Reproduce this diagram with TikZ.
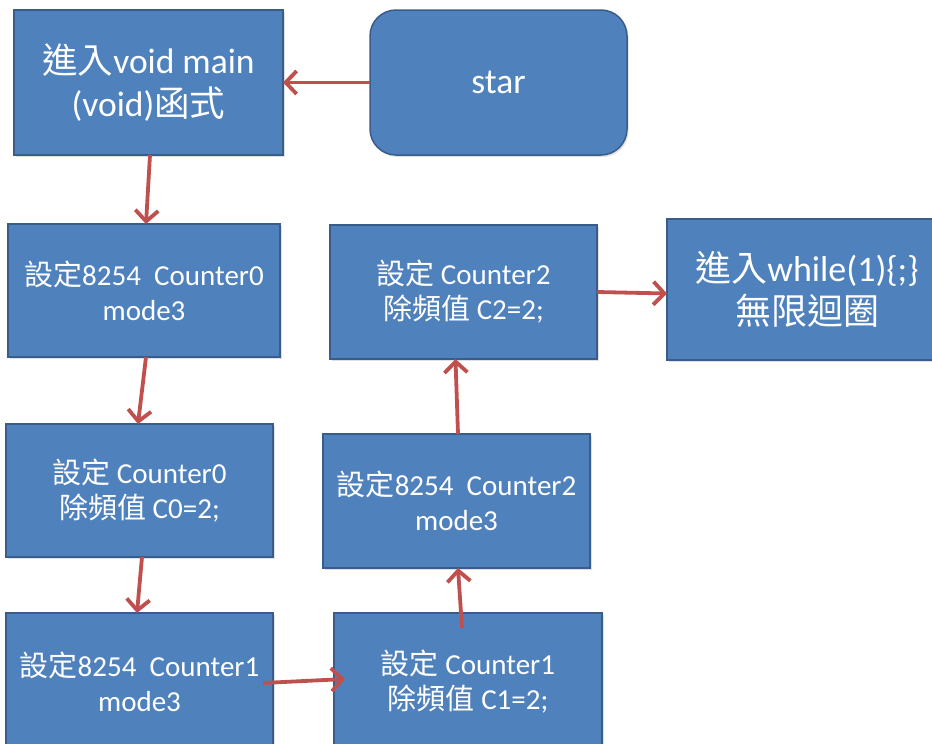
\documentclass[tikz,border=0pt]{standalone}
\usepackage{fontspec}
\setmainfont{Carlito}
\newfontfamily\cjk{Noto Sans CJK TC}
\usetikzlibrary{arrows.meta,calc,shadows}
\definecolor{boxfill}{HTML}{4F81BD}
\definecolor{boxline}{HTML}{385D8A}
\definecolor{arrowred}{HTML}{C0504D}
\tikzset{
  box/.style={draw=boxline, line width=1.5pt, fill=boxfill, text=white, align=center,
    inner sep=0pt, outer sep=0pt,
    drop shadow={shadow xshift=1.5pt, shadow yshift=-2pt, opacity=0.25}},
  bigtext/.style={font=\fontsize{35.5}{43}\selectfont},
  bodytext/.style={font=\fontsize{29}{35}\selectfont},
  flow/.style={draw=arrowred, line width=3.8pt, -{Straight Barb[length=11pt,width=23pt,line width=3.8pt]}}
}
\begin{document}
\begin{tikzpicture}[x=1pt,y=-1pt]
\useasboundingbox (0,0) rectangle (932,744);
\fill[white] (0,0) rectangle (932,744);
\node[box, bigtext, minimum width=269pt, minimum height=145pt] (A) at (148.5,82.5)
  {{\cjk 進入}void main\\(void){\cjk 函式}};
\node[box, bigtext, rounded corners=26pt, minimum width=257pt, minimum height=145pt] (S) at (498.5,82.5) {star};
\node[box, bodytext, minimum width=272pt, minimum height=133pt] (B) at (144,290.5)
  {{\cjk 設定}8254\ \ Counter0\\mode3};
\node[box, bodytext, minimum width=267pt, minimum height=133pt] (C) at (139.5,490.5)
  {{\cjk 設定} Counter0\\{\cjk 除頻值} C0=2;};
\node[box, bodytext, minimum width=267pt, minimum height=137pt] (D) at (139.5,681.5)
  {{\cjk 設定}8254\ \ Counter1\\mode3};
\node[box, bodytext, minimum width=268pt, minimum height=137pt] (E) at (468,681.5)
  {{\cjk 設定} Counter1\\{\cjk 除頻值} C1=2;};
\node[box, bodytext, minimum width=267pt, minimum height=134pt] (F) at (456.5,501)
  {{\cjk 設定}8254\ \ Counter2\\mode3};
\node[box, bodytext, minimum width=267pt, minimum height=134pt] (G) at (463.5,292)
  {{\cjk 設定} Counter2\\{\cjk 除頻值} C2=2;};
\node[box, font=\fontsize{36}{43}\selectfont, minimum width=280pt, minimum height=141pt] (H) at (807,289.5)
  {{\cjk 進入}while(1)\{;\}\\{\cjk 無限迴圈}};
\draw[flow] (S.west) -- (A.east);
\draw[flow] ($(A.south)+(1.5,0)$) -- ($(B.north)+(2,0)$);
\draw[flow] ($(B.south)+(2,0)$) -- ($(C.north)+(-1.5,0)$);
\draw[flow] ($(C.south)+(2.5,0)$) -- ($(D.north)+(-2.5,0)$);
\draw[flow] ($(D.east)+(-10,1.5)$) -- ($(E.west)+(11,-2.5)$);
\draw[flow] ($(E.north)+(-6,15)$) -- ($(F.south)+(1.5,0)$);
\draw[flow] ($(F.north)+(1.5,0)$) -- ($(G.south)+(-8,0)$);
\draw[flow] (G.east) -- ($(H.west)+(0,4)$);
\end{tikzpicture}
\end{document}
